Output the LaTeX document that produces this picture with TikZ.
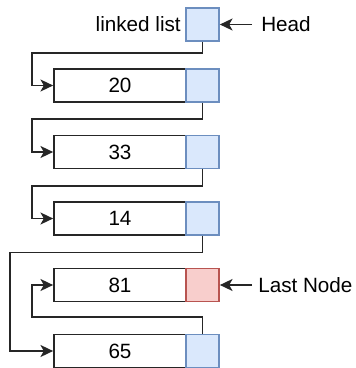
\documentclass[tikz,border=0pt]{standalone}
\usepackage{fontspec}
\setmainfont{Liberation Sans}
\usetikzlibrary{arrows.meta}
\definecolor{bfill}{HTML}{DAE8FC}
\definecolor{bdraw}{HTML}{6C8EBF}
\definecolor{rfill}{HTML}{F8CECC}
\definecolor{rdraw}{HTML}{B85450}
\begin{document}
\begin{tikzpicture}[x=0.75pt,y=-0.75pt,
  databox/.style={draw=black!85,line width=1.3pt,fill=white,minimum width=99pt,minimum height=24.75pt,inner sep=0pt,font=\fontsize{15.5}{18}\selectfont},
  ptrbox/.style={draw=bdraw,fill=bfill,line width=1.3pt,minimum width=24.75pt,minimum height=24.75pt,inner sep=0pt},
  lastbox/.style={ptrbox,draw=rdraw,fill=rfill},
  lbl/.style={font=\fontsize{15.5}{18}\selectfont,inner sep=0pt},
  conn/.style={draw=black!85,line width=1.3pt,-{Stealth[length=9.5pt,width=9pt,inset=2.5pt]}}]
\useasboundingbox (0,0) rectangle (355,368);
% top head pointer
\node[ptrbox] (h) at (202.5,24.5) {};
\node[lbl,anchor=east] (ll) at (181,24.5) {linked list};
\node[lbl,anchor=west] (hl) at (261,24.5) {Head};
% rows
\node[databox] (d1) at (120,85.5) {20};
\node[ptrbox] (p1) at (202.5,85.5) {};
\node[databox] (d2) at (120,152) {33};
\node[ptrbox] (p2) at (202.5,152) {};
\node[databox] (d3) at (120,218.5) {14};
\node[ptrbox] (p3) at (202.5,218.5) {};
\node[databox] (d4) at (120,285) {81};
\node[lastbox] (p4) at (202.5,285) {};
\node[lbl,anchor=west] (lnl) at (258,285) {Last Node};
\node[databox] (d5) at (120,351) {65};
\node[ptrbox] (p5) at (202.5,351) {};
% connectors
\draw[conn] (h.south) -- ++(0,11) -| (32,85.5) -- (d1.west);
\draw[conn] (p1.south) -- ++(0,16) -| (32,152) -- (d2.west);
\draw[conn] (p2.south) -- ++(0,16.5) -| (32,218.5) -- (d3.west);
\draw[conn] (p3.south) -- ++(0,16.5) -| (10,351) -- (d5.west);
\draw[conn] (p5.north) -- ++(0,-16.5) -| (32,285) -- (d4.west);
\draw[conn] (hl.west) ++(-9,0) coordinate (ha) -- (h.east);
\draw[conn] (lnl.west) ++(-6,0) coordinate (la) -- (p4.east);
\end{tikzpicture}
\end{document}
